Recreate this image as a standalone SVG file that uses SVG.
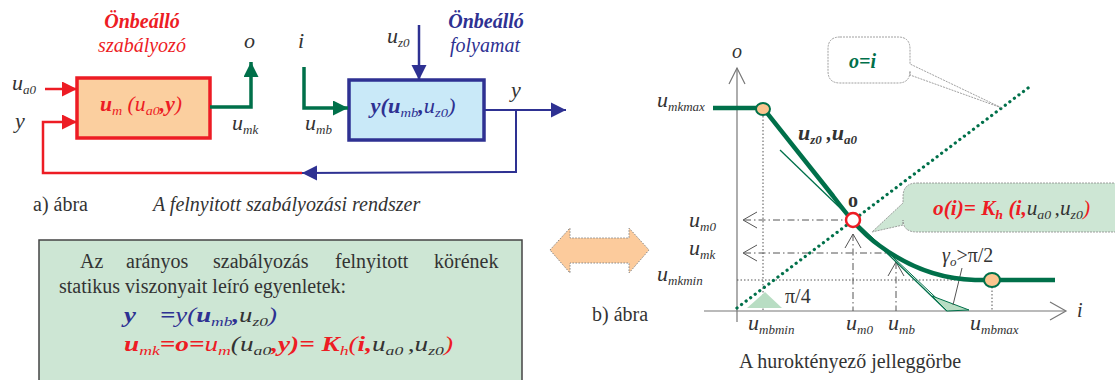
<svg xmlns="http://www.w3.org/2000/svg" width="1115" height="380" viewBox="0 0 1115 380" font-family="Liberation Serif, DejaVu Serif, serif">
<style>
text{font-family:'Liberation Serif','DejaVu Serif',serif}
.t{fill:#333;font-size:20px}
.u{font-size:22px}
.i{font-style:italic}
.b{font-weight:bold}
.red{fill:#ED1C24}
.blue{fill:#2E3192}
.grn{fill:#00704A}
.s{font-size:13px}
.ax{stroke:#777;stroke-width:1.2;fill:none}
.guide{stroke:#555;stroke-width:1;fill:none}
.dot{stroke-dasharray:1.5 2}
.dd{stroke-dasharray:7 3 1.5 3}
</style>
<defs>
<marker id="ar" viewBox="0 0 10 10" refX="10" refY="5" markerWidth="15" markerHeight="15" orient="auto" markerUnits="userSpaceOnUse"><path d="M0,0 L10,5 L0,10 z" fill="#ED1C24"/></marker>
<marker id="ab" viewBox="0 0 10 10" refX="10" refY="5" markerWidth="15" markerHeight="16" orient="auto" markerUnits="userSpaceOnUse"><path d="M0,0 L10,5 L0,10 z" fill="#2E3192"/></marker>
<marker id="ag" viewBox="0 0 10 10" refX="10" refY="5" markerWidth="15" markerHeight="15" orient="auto" markerUnits="userSpaceOnUse"><path d="M0,0 L10,5 L0,10 z" fill="#00704A"/></marker>
</defs>

<g id="controller">
<text x="142" y="28" text-anchor="middle" class="t i b red" font-size="21">Önbeálló</text>
<text x="142" y="52" text-anchor="middle" class="t i red" font-size="21">szabályozó</text>
<rect x="77" y="78" width="133" height="60" fill="#FBCF9F" stroke="#ED1C24" stroke-width="3.5"/>
<text x="141" y="111" text-anchor="middle" class="t i red" font-size="21" textLength="82" lengthAdjust="spacingAndGlyphs"><tspan class="b">u</tspan><tspan class="s" dy="4">m</tspan><tspan dy="-4"> (u</tspan><tspan class="s" dy="4">a0</tspan><tspan dy="-4" class="b">,y</tspan>)</text>
</g>

<g id="process">
<text x="486" y="28" text-anchor="middle" class="t i b blue" font-size="21">Önbeálló</text>
<text x="485" y="52" text-anchor="middle" class="t i blue" font-size="21">folyamat</text>
<rect x="349" y="80" width="135" height="60" fill="#C9E9F8" stroke="#2E3192" stroke-width="3.5"/>
<text x="413" y="113" text-anchor="middle" class="t i blue" font-size="21" textLength="85" lengthAdjust="spacingAndGlyphs"><tspan class="b">y(u</tspan><tspan class="s" dy="4">mb</tspan><tspan dy="-4" class="b">,</tspan>u<tspan class="s" dy="4">z0</tspan><tspan dy="-4">)</tspan></text>
</g>

<g id="connectors-left" fill="none">
<line x1="45" y1="89" x2="77" y2="89" stroke="#ED1C24" stroke-width="2.5" marker-end="url(#ar)"/>
<polyline points="302,173 43,173 43,122 77,122" stroke="#ED1C24" stroke-width="2.5" marker-end="url(#ar)"/>
<polyline points="210,107 251,107 251,62" stroke="#00704A" stroke-width="3.5" marker-end="url(#ag)"/>
<polyline points="304,67 304,108 348,108" stroke="#00704A" stroke-width="3.5" marker-end="url(#ag)"/>
<line x1="419" y1="25" x2="419" y2="80" stroke="#2E3192" stroke-width="2.5" marker-end="url(#ab)"/>
<line x1="484" y1="110" x2="566" y2="110" stroke="#2E3192" stroke-width="2" marker-end="url(#ab)"/>
<polyline points="516,110 516,172 302,173" stroke="#2E3192" stroke-width="2" marker-end="url(#ab)"/>
</g>

<g id="labels-left">
<text x="12" y="90" class="t i"><tspan class="u">u</tspan><tspan class="s" dy="4">a0</tspan></text>
<text x="15" y="128" class="t i u">y</text>
<text x="244" y="48" class="t i u">o</text>
<text x="232" y="130" class="t i"><tspan class="u">u</tspan><tspan class="s" dy="4">mk</tspan></text>
<text x="298" y="48" class="t i u">i</text>
<text x="305" y="130" class="t i"><tspan class="u">u</tspan><tspan class="s" dy="4">mb</tspan></text>
<text x="387" y="43" class="t i"><tspan class="u">u</tspan><tspan class="s" dy="4">z0</tspan></text>
<text x="511" y="97" class="t i u">y</text>
<text x="33" y="211" class="t">a) ábra</text>
<text x="153" y="211" class="t i" font-size="20.5">A felnyitott szabályozási rendszer</text>
</g>

<g id="equations">
<rect x="39" y="240" width="483" height="150" fill="#CDE6D4" stroke="#444" stroke-width="1.5"/>
<text y="268" class="t"><tspan x="80">Az</tspan><tspan x="126">arányos</tspan><tspan x="213">szabályozás</tspan><tspan x="335">felnyitott</tspan><tspan x="434">körének</tspan></text>
<text x="59" y="293" class="t">statikus viszonyait leíró egyenletek:</text>
<text x="124" y="322" class="t i blue" font-size="22" textLength="153" lengthAdjust="spacingAndGlyphs"><tspan class="b">y</tspan><tspan dx="18" class="b">=</tspan>y(<tspan class="b">u</tspan><tspan class="s" dy="4">mb</tspan><tspan dy="-4" class="b">,</tspan><tspan fill="#333">u</tspan><tspan class="s" fill="#333" dy="4">z0</tspan><tspan dy="-4">)</tspan></text>
<text x="124" y="351" class="t i red" font-size="22" textLength="329" lengthAdjust="spacingAndGlyphs"><tspan class="b">u</tspan><tspan class="s" dy="4">mk</tspan><tspan dy="-4" class="b">=o=</tspan>u<tspan class="s" dy="4">m</tspan><tspan dy="-4" fill="#333">(u</tspan><tspan class="s" fill="#333" dy="4">a0</tspan><tspan dy="-4" class="b">,y)= K</tspan><tspan class="s" dy="4">h</tspan><tspan dy="-4">(</tspan><tspan class="b">i,</tspan><tspan fill="#333">u</tspan><tspan class="s" fill="#333" dy="4">a0 </tspan><tspan dy="-4" fill="#333">,u</tspan><tspan class="s" fill="#333" dy="4">z0</tspan><tspan dy="-4">)</tspan></text>
</g>

<g id="double-arrow">
<polygon points="550,250 570,228 570,238 629,238 629,228 649,250 629,273 629,263 570,263 570,273" fill="#FCCB9C" stroke="#888" stroke-width="1" stroke-dasharray="1.5 1.5"/>
<text x="592" y="321" class="t" font-size="21">b) ábra</text>
</g>

<g id="axes">
<line x1="737" y1="322" x2="737" y2="68" class="ax"/>
<polyline points="729,84 737,68 745,84" class="ax"/>
<line x1="704" y1="311" x2="1065" y2="311" class="ax"/>
<polyline points="1050,302 1066,311 1050,320" class="ax"/>
<text x="737" y="58" text-anchor="middle" class="t i" font-size="17">o</text>
<text x="1077" y="317" class="t i" font-size="22">i</text>
</g>

<g id="guides">
<line x1="763" y1="116" x2="763" y2="311" class="guide dot"/>
<line x1="744" y1="220" x2="846" y2="220" class="guide dd"/>
<polyline points="757,212 743,220 757,228" class="guide"/>
<line x1="853" y1="234" x2="853" y2="311" class="guide dd"/>
<polyline points="845,248 853,234 861,248" class="guide"/>
<line x1="744" y1="253" x2="890" y2="253" class="guide dd"/>
<polyline points="757,245 743,253 757,261" class="guide"/>
<line x1="896" y1="262" x2="896" y2="311" class="guide dd"/>
<polyline points="888,276 896,262 904,276" class="guide"/>
<line x1="737" y1="280" x2="985" y2="280" class="guide dot"/>
<line x1="992" y1="287" x2="992" y2="311" class="guide dot"/>
</g>

<g id="oi-line">
<line x1="737" y1="308" x2="1032" y2="85" stroke="#00704A" stroke-width="3.2" stroke-linecap="round" stroke-dasharray="0.1 5.6"/>
</g>

<g id="angle-marks">
<polygon points="747,308 765,292 782,308" fill="#B8DDC3"/>
<text x="785" y="303" class="t" font-size="21">π/4</text>
<line x1="780" y1="150" x2="947" y2="311" stroke="#00704A" stroke-width="1.3"/>
<line x1="856" y1="222" x2="950" y2="311" stroke="#00704A" stroke-width="1"/>
<polygon points="932,296 969,310 947,311" fill="#B8DDC3" stroke="#00704A" stroke-width="1"/>
<line x1="962" y1="268" x2="953" y2="305" stroke="#555" stroke-width="1"/>
<text x="942" y="262" class="t" font-size="22"><tspan class="i">γ</tspan><tspan class="s i" dy="4">o</tspan><tspan dy="-4">&gt;π/2</tspan></text>
</g>

<g id="curve">
<path d="M713,108 L763,108 L833,196 C845,212 860,232 880,246 C910,268 940,279 975,280 L1055,280" fill="none" stroke="#00704A" stroke-width="4.5"/>
<ellipse cx="763" cy="109" rx="7" ry="6" fill="#FBC58F" stroke="#00704A" stroke-width="2"/>
<ellipse cx="992" cy="280" rx="8" ry="7" fill="#FBC58F" stroke="#00704A" stroke-width="2"/>
<circle cx="853" cy="220" r="7" fill="#fff" stroke="#ED1C24" stroke-width="2.5"/>
<text x="853" y="207" text-anchor="middle" class="t b" font-size="17">o</text>
<text x="798" y="140" class="t i b"><tspan class="u">u</tspan><tspan class="s" dy="4">z0</tspan><tspan dy="-4"> ,</tspan><tspan class="u">u</tspan><tspan class="s" dy="4">a0</tspan></text>
</g>

<g id="labels-right">
<text x="657" y="107" class="t i"><tspan class="u">u</tspan><tspan class="s" dy="4">mkmax</tspan></text>
<text x="689" y="227" class="t i"><tspan class="u">u</tspan><tspan class="s" dy="4">m0</tspan></text>
<text x="689" y="255" class="t i"><tspan class="u">u</tspan><tspan class="s" dy="4">mk</tspan></text>
<text x="657" y="281" class="t i"><tspan class="u">u</tspan><tspan class="s" dy="4">mkmin</tspan></text>
<text x="748" y="330" class="t i"><tspan class="u">u</tspan><tspan class="s" dy="4">mbmin</tspan></text>
<text x="846" y="330" class="t i"><tspan class="u">u</tspan><tspan class="s" dy="4">m0</tspan></text>
<text x="888" y="330" class="t i"><tspan class="u">u</tspan><tspan class="s" dy="4">mb</tspan></text>
<text x="970" y="330" class="t i"><tspan class="u">u</tspan><tspan class="s" dy="4">mbmax</tspan></text>
<text x="739" y="368" class="t" font-size="21.3">A huroktényező jelleggörbe</text>
</g>

<g id="callout-oi">
<path d="M840,37 H898 Q910,37 910,49 V64 L1002,108 L910,75 V71 Q910,83 898,83 H840 Q828,83 828,71 V49 Q828,37 840,37 Z" fill="#fff" stroke="#888" stroke-width="0.8" stroke-dasharray="2 1"/>
<text x="849" y="68" class="t i b grn">o=i</text>
</g>

<g id="callout-kh">
<path d="M917,183 H1130 V232 H917 Q903,232 903,220 V225 L872,232 L903,203 V197 Q903,183 917,183 Z" fill="#CDE6D4" stroke="#888" stroke-width="0.8" stroke-dasharray="2 1"/>
<text x="933" y="215" class="t i red" textLength="157" lengthAdjust="spacingAndGlyphs"><tspan class="b">o(i)= K</tspan><tspan class="s b" dy="4">h</tspan><tspan dy="-4" class="b"> (i,</tspan><tspan fill="#333">u</tspan><tspan class="s" fill="#333" dy="4">a0 </tspan><tspan dy="-4" fill="#333">,u</tspan><tspan class="s" fill="#333" dy="4">z0</tspan><tspan dy="-4">)</tspan></text>
</g>
</svg>
